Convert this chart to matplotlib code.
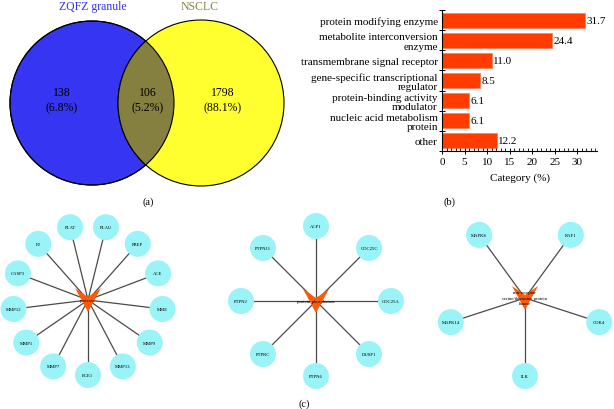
import numpy as np
import matplotlib
matplotlib.use("Agg")
import matplotlib.pyplot as plt
from matplotlib.patches import Circle, Polygon
from matplotlib.ticker import MultipleLocator

plt.rcParams['font.family'] = ['Liberation Serif', 'DejaVu Serif']

# (a) venn
venn_names = ["ZQFZ granule", "NSCLC"]
venn_counts = [138, 106, 1798]
venn_pct = [6.8, 5.2, 88.1]

# (b) categories
categories = ["protein modifying enzyme", "metabolite interconversion\nenzyme",
              "transmembrane signal receptor", "gene-specific transcriptional\nregulator",
              "protein-binding activity\nmodulator", "nucleic acid metabolism\nprotein", "other"]
cat_pct = [31.7, 24.4, 11.0, 8.5, 6.1, 6.1, 12.2]

# (c) networks: hub label + neighbours (counter-clockwise from bottom)
hubs = ["protease", "protein phosphatase", "non-receptor\nserine/threonine protein\nkinase"]
net_nodes = [
    ["ECE1", "MMP13", "MMP9", "MME", "ACE", "PREP", "PLAU", "PLAT", "F2", "CASP3", "MMP12", "MMP1", "MMP7"],
    ["PTPN6", "DUSP1", "CDC25A", "CDC25C", "ACP1", "PTPN11", "PTPN2", "PTPRC"],
    ["ILK", "CDK4", "RAF1", "MAPK8", "MAPK14"],
]

BLUE = '#3636F2'
YEL = '#FFFF30'
OLIVE = '#858040'
BAR = '#FF3B00'
NODE = '#9AF4F7'
HUB = '#FF5A0A'

fig = plt.figure(figsize=(6.14, 4.10), dpi=100)
ax = fig.add_axes([0, 0, 1, 1])
ax.set_xlim(0, 614)
ax.set_ylim(410, 0)
ax.axis('off')

# ---- venn
c1 = Circle((92, 104), 82, fc=BLUE, ec='black', lw=0.8, zorder=1)
c2 = Circle((201, 104), 83, fc=YEL, ec='black', lw=0.8, zorder=1)
ax.add_patch(c1)
ax.add_patch(c2)
ov = Circle((201, 104), 83, fc=OLIVE, ec='black', lw=0.8, zorder=2)
ax.add_patch(ov)
ov.set_clip_path(c1)
c1b = Circle((92, 104), 82, fc='none', ec='black', lw=0.8, zorder=3)
ax.add_patch(c1b)

ax.text(93, 7, venn_names[0], color='#3333EE', fontsize=8.5, ha='center', va='center')
ax.text(200, 7, venn_names[1], color='#8A8545', fontsize=8.5, ha='center', va='center')
for x, n, p in zip([62, 148, 223], venn_counts, venn_pct):
    ax.text(x, 101, f"{n}\n({p}%)", fontsize=8.5, ha='center', va='center', linespacing=1.35, zorder=4)
ax.text(148, 202, "(a)", fontsize=7.5, ha='center', va='center')
ax.text(449, 202, "(b)", fontsize=7.5, ha='center', va='center')
ax.text(304, 404, "(c)", fontsize=7.5, ha='center', va='center')

# ---- networks
centers = [(88, 301), (316, 302), (525, 299)]
radii = [75, 75, 78]
for (cx, cy), r, hub, nodes in zip(centers, radii, hubs, net_nodes):
    n = len(nodes)
    ang = np.deg2rad(90 - np.arange(n) * 360.0 / n)
    xs = cx + r * np.cos(ang)
    ys = cy + r * np.sin(ang)
    for x, y, name in zip(xs, ys, nodes):
        ax.plot([cx, x], [cy, y], color='#4a4a4a', lw=0.9, zorder=1)
        ax.add_patch(Circle((x, y), 13, fc=NODE, ec='none', zorder=2))
        ax.text(x, y, name, fontsize=3.4, ha='center', va='center', zorder=3)
    ax.add_patch(Polygon([(cx - 13, cy - 12), (cx, cy - 3), (cx + 13, cy - 12), (cx, cy + 12)],
                         closed=True, fc=HUB, ec='none', zorder=4))
    ax.text(cx, cy, hub, fontsize=3.4, ha='center', va='center', linespacing=1.5, zorder=5)

# ---- bars
bx = fig.add_axes([442 / 614, 1 - 152 / 410, 155 / 614, 141 / 410])
ypos = np.arange(len(categories))
bx.barh(ypos, cat_pct, height=0.75, color=BAR, edgecolor='#FF8060', lw=0.6)
for y, v in zip(ypos, cat_pct):
    bx.text(v + 0.3, y, f"{v:.1f}", fontsize=8, ha='left', va='center')
bx.set_ylim(len(categories) - 0.5, -0.5)
bx.set_xlim(0, 34.4)
bx.set_yticks(ypos)
bx.set_yticklabels(categories, fontsize=8, linespacing=1.05)
bx.set_yticks(np.arange(len(categories) + 1) - 0.5, minor=True)
bx.tick_params(axis='y', which='major', length=0, pad=3)
bx.tick_params(axis='y', which='minor', direction='inout', length=4, width=0.7)
bx.set_xticks(np.arange(0, 31, 5))
bx.xaxis.set_minor_locator(MultipleLocator(1))
bx.tick_params(axis='x', which='major', direction='inout', length=4, width=0.7, labelsize=8, pad=2)
bx.tick_params(axis='x', which='minor', direction='in', length=2, width=0.6)
bx.spines['top'].set_visible(False)
bx.spines['right'].set_visible(False)
bx.spines['left'].set_linewidth(0.8)
bx.spines['bottom'].set_linewidth(0.8)
bx.set_xlabel("Category (%)", fontsize=8, labelpad=5)

fig.savefig("out.png", dpi=100)
